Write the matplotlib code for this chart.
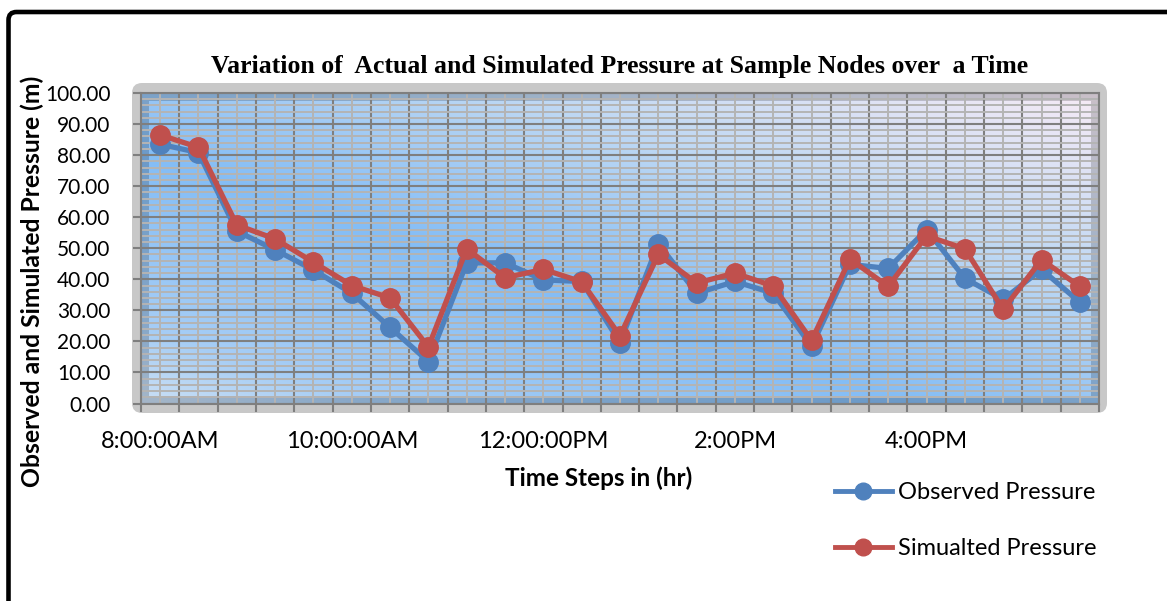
#!/usr/bin/env python3
"""Observed vs simulated pressure at sample nodes (Excel-style line chart)."""

import matplotlib

matplotlib.use("Agg")
import matplotlib.pyplot as plt
import numpy as np
from matplotlib.colors import to_rgb
from matplotlib.lines import Line2D
from matplotlib.patches import FancyBboxPatch, Rectangle
from matplotlib.ticker import FixedLocator, FormatStrFormatter, MultipleLocator

# --- data -----------------------------------------------------------------
observed = [83.5, 80.8, 55.5, 49.5, 43.0, 35.5, 24.5, 13.5, 45.3, 45.3,
            39.8, 39.3, 19.6, 51.5, 35.5, 39.3, 35.5, 18.4, 44.8, 43.5,
            56.0, 40.3, 33.5, 43.2, 32.6]
simulated = [86.5, 82.5, 57.5, 53.0, 45.5, 38.0, 34.0, 18.2, 49.8, 40.5,
             43.2, 39.2, 21.8, 48.0, 38.8, 42.0, 37.8, 20.3, 46.5, 37.7,
             54.0, 49.8, 30.3, 46.3, 37.7]
time_labels = {0: "8:00:00AM", 5: "10:00:00AM", 10: "12:00:00PM",
               15: "2:00PM", 20: "4:00PM"}

BLUE = "#4f81bd"
RED = "#c0504d"
GRID_MAJOR = "#7f7f7f"
GRID_MINOR = "#b4b4b4"

plt.rcParams["font.family"] = ["Lato", "DejaVu Sans"]

W, H = 1167, 601
fig = plt.figure(figsize=(W / 100, H / 100), dpi=100)
fig.patch.set_facecolor("white")

# outer chart frame (black, rounded, runs off the right/bottom edge)
fig.add_artist(FancyBboxPatch((8.5, -60), 1250, 601 - 12 + 60,
                              boxstyle="round,pad=0,rounding_size=8",
                              transform=None, facecolor="none",
                              edgecolor="black", linewidth=3.3, zorder=-2,
                              clip_on=False))
# grey rounded plot-area backing
fig.add_artist(FancyBboxPatch((132, 601 - 413), 975, 330,
                              boxstyle="round,pad=0,rounding_size=10",
                              transform=None, facecolor="#c8c8c8",
                              edgecolor="none", zorder=-1))

ax = fig.add_axes([141 / W, (601 - 403.5) / H, 958 / W, 310.5 / H])
ax.set_facecolor("none")
n = len(observed)
x = np.arange(n)
ax.set_xlim(-0.5, n - 0.5)
ax.set_ylim(0, 100)

# diagonal gradient fill
stops = [0.0, 0.12, 0.4, 0.68, 1.0]
cols = np.array([to_rgb(c) for c in
                 ["#cadff4", "#a6cdf5", "#84bdf6", "#bcd7f3", "#f7ebf6"]])
gx, gy = np.meshgrid(np.linspace(0, 1, 300), np.linspace(0, 1, 120))
t = (gx + gy) / 2
img = np.dstack([np.interp(t, stops, cols[:, k]) for k in range(3)])
ax.imshow(img, extent=(0, 1, 1, 0), transform=ax.transAxes, aspect="auto",
          zorder=0, interpolation="bilinear")

# darker inner frame bands
bw, bh = 8 / 958, 8 / 310.5
for rect in [(0, 1 - bh, 1, bh), (0, 0, 1, bh),
             (0, bh, bw, 1 - 2 * bh), (1 - bw, bh, bw, 1 - 2 * bh)]:
    ax.add_patch(Rectangle(rect[:2], rect[2], rect[3], transform=ax.transAxes,
                           facecolor="black", alpha=0.18, edgecolor="none",
                           zorder=0.2))

# grid
ax.xaxis.set_major_locator(FixedLocator(np.arange(-0.5, n, 1.0)))
ax.xaxis.set_minor_locator(FixedLocator(x))
ax.yaxis.set_major_locator(MultipleLocator(10))
ax.yaxis.set_minor_locator(MultipleLocator(2))
ax.yaxis.set_major_formatter(FormatStrFormatter("%.2f"))
ax.set_axisbelow(True)
ax.grid(which="minor", color=GRID_MINOR, linewidth=1.4, zorder=0.5)
ax.grid(which="major", color=GRID_MAJOR, linewidth=1.5, zorder=0.6)

ax.set_xticklabels([])
ax.set_xticklabels([time_labels.get(i, "") for i in x], minor=True)
ax.tick_params(axis="x", which="major", length=6, width=1.5,
               color=GRID_MAJOR, direction="out")
ax.tick_params(axis="x", which="minor", length=0, pad=20, labelsize=17)
ax.tick_params(axis="y", which="major", length=6, width=1.5,
               color=GRID_MAJOR, direction="out", pad=16, labelsize=15)
ax.tick_params(axis="y", which="minor", length=0)
for spine in ax.spines.values():
    spine.set_color(GRID_MAJOR)
    spine.set_linewidth(1.5)

ax.plot(x, observed, color=BLUE, linewidth=3.8, marker="o", markersize=14,
        zorder=3)
ax.plot(x, simulated, color=RED, linewidth=3.8, marker="o", markersize=14,
        zorder=4)

fig.text(620 / W, (601 - 67) / H,
         "Variation of  Actual and Simulated Pressure at Sample Nodes over  a Time",
         family="Liberation Serif", fontweight="bold", fontsize=18.5,
         ha="center", va="center")
fig.text(32 / W, (601 - 281) / H, "Observed and Simulated Pressure (m)",
         fontweight="bold", fontsize=17.8, rotation=90, ha="center", va="center")
fig.text(599 / W, (601 - 478) / H, "Time Steps in (hr)", fontweight="bold",
         fontsize=17.5, ha="center", va="center")

handles = [Line2D([], [], color=BLUE, linewidth=3.5, marker="o", markersize=12),
           Line2D([], [], color=RED, linewidth=3.5, marker="o", markersize=12)]
fig.legend(handles, ["Observed Pressure", "Simualted Pressure"],
           loc="upper left", bbox_to_anchor=(835 / W, (601 - 482) / H),
           frameon=False, fontsize=17, handlelength=2.4, handletextpad=0.25,
           labelspacing=1.5, borderpad=0, borderaxespad=0)

fig.savefig("out.png", dpi=100)
